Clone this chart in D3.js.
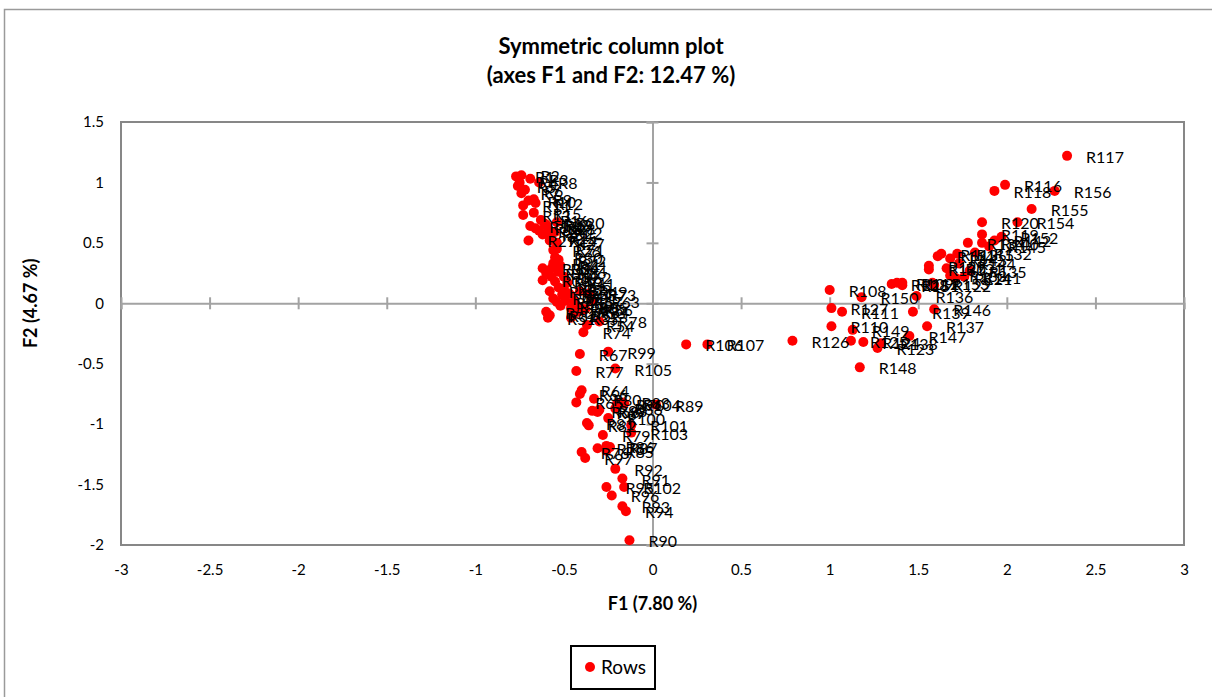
<!doctype html>
<html>
<head>
<meta charset="UTF-8">
<title>Symmetric column plot</title>
<script src="https://d3js.org/d3.v7.min.js"></script>
<style>
  body { margin: 0; background: #fff; }
  svg text { font-family: Lato, "Liberation Sans", sans-serif; fill: #000; }
</style>
</head>
<body>
<svg id="chart" width="1212" height="697"></svg>
<script>
// chart texts
var titleLines = ["Symmetric column plot", "(axes F1 and F2: 12.47 %)"];
var xTitle = "F1 (7.80 %)";
var yTitle = "F2 (4.67 %)";
var legendName = "Rows";

// tick values
var xTicks = [-3, -2.5, -2, -1.5, -1, -0.5, 0, 0.5, 1, 1.5, 2, 2.5, 3];
var yTicks = [-2, -1.5, -1, -0.5, 0, 0.5, 1, 1.5];

// row names R1..R156
var rowLabels = d3.range(1, 157).map(function(i){ return "R" + i; });

// coordinates on F1, rows R1..R156
var f1 = [
  -0.77,-0.74,-0.69,-0.75,-0.76,-0.72,-0.74,-0.64,-0.67,-0.70,
  -0.73,-0.66,-0.73,-0.58,-0.67,-0.63,-0.69,-0.66,-0.60,-0.54,
  -0.62,-0.55,-0.59,-0.64,-0.58,-0.56,-0.54,-0.61,-0.70,
  -0.55,-0.56,-0.58,-0.62,-0.57,-0.46,-0.53,-0.60,-0.62,-0.57,
  -0.55,-0.48,-0.53,-0.58,-0.51,-0.54,-0.49,-0.56,-0.52,-0.41,
  -0.60,-0.59,-0.45,-0.42,-0.37,-0.41,-0.38,-0.44,-0.47,-0.50,
  -0.46,-0.52,-0.50,-0.34,
  -0.40,-0.43,-0.41,-0.41,-0.34,-0.31,-0.20,-0.54,-0.53,-0.36,
  -0.39,-0.31,-0.40,-0.43,-0.30,-0.28,-0.33,-0.37,-0.36,-0.17,
  -0.40,-0.26,-0.26,-0.24,-0.21, 0.02,-0.13,-0.17,-0.21,-0.17,
  -0.15,-0.26,-0.23,-0.38,-0.30,-0.25,-0.25,-0.12,-0.16,-0.12,
  -0.16,-0.21,
   0.19, 0.31, 1.00, 1.38, 1.01, 1.07, 1.41, 1.63, 1.61, 1.72,
   1.99, 2.34, 1.93, 1.86, 1.86, 1.71, 1.59, 1.27, 1.19, 1.12,
   0.79, 1.01, 1.35, 1.56, 1.56, 1.66, 1.82, 1.68, 1.78, 1.79,
   1.49, 1.55, 1.29, 1.47, 1.86, 1.76, 1.93, 1.68, 1.73, 1.90,
   1.59, 1.45, 1.17, 1.13, 1.18, 1.41, 1.97, 1.58, 2.06, 2.14,
   2.27
];

// coordinates on F2, same order
var f2 = [
   1.05, 1.06, 1.03, 1.00, 0.97, 0.94, 0.91, 1.00, 0.86, 0.85,
   0.81, 0.83, 0.73, 0.52, 0.75, 0.69, 0.64, 0.62, 0.65, 0.67,
   0.57, 0.59, 0.62, 0.60, 0.55, 0.44, 0.50, 0.66, 0.52,
   0.38, 0.33,-0.10, 0.29, 0.29,-0.12, 0.26, 0.25, 0.19, 0.22,
   0.18, 0.17, 0.13, 0.10, 0.07, 0.01, 0.02, 0.04,-0.02, 0.10,
  -0.07,-0.12,-0.10,-0.07,-0.18,-0.03,-0.05, 0.02, 0.08, 0.12,
  -0.04, 0.31, 0.22, 0.02,
  -0.72,-0.82,-0.75,-0.42,-0.89,-0.90,-0.83, 0.45, 0.36, 0.08,
  -0.24,-1.20,-1.23,-0.56,-0.15,-1.09,-0.79,-0.99,-1.01,-0.82,
  -0.06,-1.22,-1.18,-1.19,-0.87,-0.84,-1.96,-1.45,-1.37,-1.68,
  -1.72,-1.52,-1.59,-1.28,-0.88,-0.40,-0.95,-1.01,-1.52,-1.07,
  -0.83,-0.54,
  -0.34,-0.34, 0.11, 0.17,-0.19,-0.07, 0.17, 0.41, 0.39, 0.41,
   0.98, 1.22, 0.93, 0.57, 0.67, 0.21, 0.15,-0.37,-0.32,-0.31,
  -0.31,-0.04, 0.16, 0.31, 0.28, 0.29, 0.42, 0.23, 0.50, 0.27,
   0.06,-0.19,-0.33,-0.07, 0.50, 0.22, 0.52, 0.37, 0.33, 0.47,
  -0.05,-0.27,-0.53,-0.22, 0.05, 0.15, 0.55, 0.17, 0.67, 0.78,
   0.93
];

var rows = rowLabels.map(function(name, i){
  return {name: name, f1: f1[i], f2: f2[i]};
});

var svg = d3.select("#chart");

var x = d3.scaleLinear().domain([-3, 3]).range([121, 1184]);
var y = d3.scaleLinear().domain([-2, 1.5]).range([545, 122]);

// outer chart border
svg.append("rect")
  .attr("x", 4.5).attr("y", 9.5)
  .attr("width", 1220).attr("height", 720)
  .attr("fill", "none").attr("stroke", "#9a9a9a").attr("stroke-width", 1.5);

// titles
svg.selectAll(".title").data(titleLines).enter()
  .append("text")
  .attr("class", "title")
  .attr("x", 611)
  .attr("y", function(d, i){ return 54 + i * 29; })
  .attr("text-anchor", "middle")
  .attr("font-size", 22)
  .attr("font-weight", "bold")
  .text(function(d){ return d; });

// plot frame
svg.append("rect")
  .attr("x", x(-3)).attr("y", y(1.5))
  .attr("width", x(3) - x(-3)).attr("height", y(-2) - y(1.5))
  .attr("fill", "none").attr("stroke", "#878787").attr("stroke-width", 2);

// tick labels outside the frame
var xLab = svg.append("g")
  .attr("transform", "translate(0," + y(-2) + ")")
  .call(d3.axisBottom(x).tickValues(xTicks).tickSize(0).tickPadding(19)
        .tickFormat(function(d){ return d; }));
xLab.select(".domain").remove();
xLab.selectAll("text").attr("font-size", 15).attr("font-family", null);

var yLab = svg.append("g")
  .attr("transform", "translate(" + x(-3) + ",0)")
  .call(d3.axisLeft(y).tickValues(yTicks).tickSize(0).tickPadding(17)
        .tickFormat(function(d){ return d; }));
yLab.select(".domain").remove();
yLab.selectAll("text").attr("font-size", 15).attr("font-family", null);

// zero axes with crossing ticks
var xZero = svg.append("g")
  .attr("transform", "translate(0," + y(0) + ")")
  .call(d3.axisBottom(x).tickValues(xTicks).tickSize(6).tickFormat(""));
xZero.selectAll(".tick line").attr("y1", -6);
xZero.selectAll("path, line").attr("stroke", "#a3a3a3").attr("stroke-width", 2);

var yZero = svg.append("g")
  .attr("transform", "translate(" + x(0) + ",0)")
  .call(d3.axisLeft(y).tickValues(yTicks).tickSize(6).tickFormat(""));
yZero.selectAll(".tick line").attr("x1", 6);
yZero.selectAll("path, line").attr("stroke", "#a3a3a3").attr("stroke-width", 2);

// axis titles
svg.append("text")
  .attr("x", x(0)).attr("y", 610)
  .attr("text-anchor", "middle")
  .attr("font-size", 18).attr("font-weight", "bold")
  .text(xTitle);

svg.append("text")
  .attr("transform", "translate(37," + y(0) + ") rotate(-90)")
  .attr("text-anchor", "middle")
  .attr("font-size", 18).attr("font-weight", "bold")
  .text(yTitle);

// points
svg.append("g").selectAll("circle").data(rows).enter()
  .append("circle")
  .attr("cx", function(d){ return x(d.f1); })
  .attr("cy", function(d){ return y(d.f2); })
  .attr("r", 5)
  .attr("fill", "#ff0000");

// point labels
svg.append("g").selectAll("text").data(rows).enter()
  .append("text")
  .attr("x", function(d){ return x(d.f1) + 19; })
  .attr("y", function(d){ return y(d.f2) + 7; })
  .attr("font-size", 16)
  .text(function(d){ return d.name; });

// legend
svg.append("rect")
  .attr("x", 571).attr("y", 646).attr("width", 84).attr("height", 43)
  .attr("fill", "#fff").attr("stroke", "#000").attr("stroke-width", 2);
svg.append("circle")
  .attr("cx", 590).attr("cy", 667).attr("r", 5).attr("fill", "#ff0000");
svg.append("text")
  .attr("x", 601).attr("y", 674)
  .attr("font-size", 19)
  .text(legendName);
</script>
</body>
</html>
